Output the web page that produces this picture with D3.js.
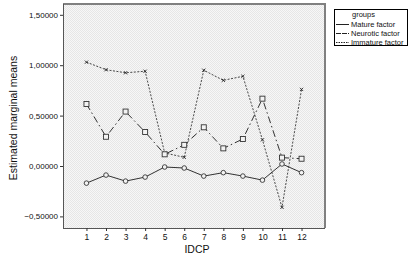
<!DOCTYPE html>
<html>
<head>
<meta charset="utf-8">
<style>
  body { margin: 0; background: #fff; }
  svg text { font-family: "Liberation Sans", Arial, sans-serif; fill: #111; }
</style>
</head>
<body>
<script src="https://d3js.org/d3.v7.min.js"></script>
<script>
var idcp = [1, 2, 3, 4, 5, 6, 7, 8, 9, 10, 11, 12];
var mature = [-0.17, -0.09, -0.15, -0.11, -0.01, -0.02, -0.10, -0.066, -0.10, -0.14, 0.02, -0.066];
var neurotic = [0.615, 0.29, 0.54, 0.337, 0.116, 0.21, 0.384, 0.175, 0.268, 0.668, 0.083, 0.072];
var immature = [1.03, 0.955, 0.925, 0.94, 0.13, 0.086, 0.95, 0.85, 0.89, 0.26, -0.41, 0.76];
var yTicks = [-0.5, 0, 0.5, 1.0, 1.5];
var groups = ['Mature factor', 'Neurotic factor', 'Immature factor'];

var width = 415, height = 262;
var pLeft = 63, pRight = 325, pTop = 4, pBottom = 228;

var svg = d3.select('body').append('svg')
    .attr('width', width)
    .attr('height', height);

var defs = svg.append('defs');
var pat = defs.append('pattern')
    .attr('id', 'hatch')
    .attr('width', 2).attr('height', 2)
    .attr('patternUnits', 'userSpaceOnUse');
pat.append('rect').attr('width', 2).attr('height', 2).attr('fill', '#f7f7f7');
pat.append('rect').attr('width', 1).attr('height', 1).attr('fill', '#e6e6e6');
pat.append('rect').attr('x', 1).attr('y', 1).attr('width', 1).attr('height', 1).attr('fill', '#e6e6e6');

var x = d3.scaleLinear().domain([-0.2, 13.2]).range([pLeft, pRight]);
var y = d3.scaleLinear().domain([0, 1]).range([166, 65.2]);

// plot background
svg.append('rect')
    .attr('x', pLeft).attr('y', pTop)
    .attr('width', pRight - pLeft).attr('height', pBottom - pTop)
    .attr('fill', 'url(#hatch)');
// frame top/right gray
svg.append('path')
    .attr('d', 'M' + pLeft + ',' + pTop + 'H' + pRight + 'V' + pBottom)
    .attr('fill', 'none').attr('stroke', '#808080').attr('stroke-width', 2);

// axes
var yAxis = d3.axisLeft(y).tickValues(yTicks).tickSize(3).tickPadding(2)
    .tickFormat(function(d){ return (d < 0 ? '\u2212' : '') + d3.format('.5f')(Math.abs(d)).replace('.', ','); });
var gy = svg.append('g').attr('transform', 'translate(' + pLeft + ',0)').call(yAxis);
gy.select('.domain').attr('d', 'M0.5,' + pTop + 'V' + pBottom).attr('stroke', '#555');
gy.selectAll('text').style('font-size', '8px');
gy.selectAll('line').attr('stroke', '#333');

var xAxis = d3.axisBottom(x).tickValues(idcp).tickSize(3).tickPadding(3).tickFormat(d3.format('d'));
var gx = svg.append('g').attr('transform', 'translate(0,' + pBottom + ')').call(xAxis);
gx.select('.domain').attr('d', 'M' + pLeft + ',0.5H' + pRight).attr('stroke', '#555');
gx.selectAll('text').style('font-size', '8.5px');
gx.selectAll('line').attr('stroke', '#333');

// axis titles
svg.append('text')
    .attr('transform', 'translate(17,' + ((pTop + pBottom) / 2 + 2) + ') rotate(-90)')
    .attr('text-anchor', 'middle')
    .style('font-size', '10.5px')
    .text('Estimated marginal means');
svg.append('text')
    .attr('x', (pLeft + pRight) / 2 + 3).attr('y', 253)
    .attr('text-anchor', 'middle')
    .style('font-size', '10.5px')
    .text('IDCP');

var line = d3.line()
    .x(function(d, i){ return x(idcp[i]); })
    .y(function(d){ return y(d); });

// immature - dotted, x markers
svg.append('path').datum(immature)
    .attr('d', line).attr('fill', 'none')
    .attr('stroke', '#333').attr('stroke-width', 0.9).attr('stroke-dasharray', '2,1.5');
svg.selectAll('.xm').data(immature).enter().append('path')
    .attr('d', function(d, i){
        var cx = x(idcp[i]), cy = y(d), r = 1.6;
        return 'M' + (cx - r) + ',' + (cy - r) + 'L' + (cx + r) + ',' + (cy + r) +
               'M' + (cx - r) + ',' + (cy + r) + 'L' + (cx + r) + ',' + (cy - r);
    })
    .attr('stroke', '#222').attr('stroke-width', 0.9);

// neurotic - dash dot, squares
svg.append('path').datum(neurotic)
    .attr('d', line).attr('fill', 'none')
    .attr('stroke', '#333').attr('stroke-width', 1).attr('stroke-dasharray', '7,3,1.5,3');
svg.selectAll('.sq').data(neurotic).enter().append('rect')
    .attr('x', function(d, i){ return x(idcp[i]) - 2.5; })
    .attr('y', function(d){ return y(d) - 2.5; })
    .attr('width', 5).attr('height', 5)
    .attr('fill', '#f3f3f3').attr('stroke', '#333').attr('stroke-width', 0.9);

// mature - solid, circles
svg.append('path').datum(mature)
    .attr('d', line).attr('fill', 'none')
    .attr('stroke', '#333').attr('stroke-width', 1);
svg.selectAll('.ci').data(mature).enter().append('circle')
    .attr('cx', function(d, i){ return x(idcp[i]); })
    .attr('cy', function(d){ return y(d); })
    .attr('r', 2.3)
    .attr('fill', '#f3f3f3').attr('stroke', '#333').attr('stroke-width', 0.9);

// legend
var lg = svg.append('g');
lg.append('rect')
    .attr('x', 334.5).attr('y', 9.5).attr('width', 73).attr('height', 36)
    .attr('fill', '#fff').attr('stroke', '#000').attr('stroke-width', 1);
lg.append('text').attr('x', 352).attr('y', 17).style('font-size', '7.5px').text('groups');
var dashes = [null, '5,1', '1.5,1'];
groups.forEach(function(g, i){
    var yy = 24.5 + i * 9;
    lg.append('line')
        .attr('x1', 336).attr('x2', 349).attr('y1', yy).attr('y2', yy)
        .attr('stroke', '#222').attr('stroke-width', 1)
        .attr('stroke-dasharray', dashes[i]);
    lg.append('text').attr('x', 351).attr('y', yy + 2.5).style('font-size', '7.5px').text(g);
});
</script>
</body>
</html>
